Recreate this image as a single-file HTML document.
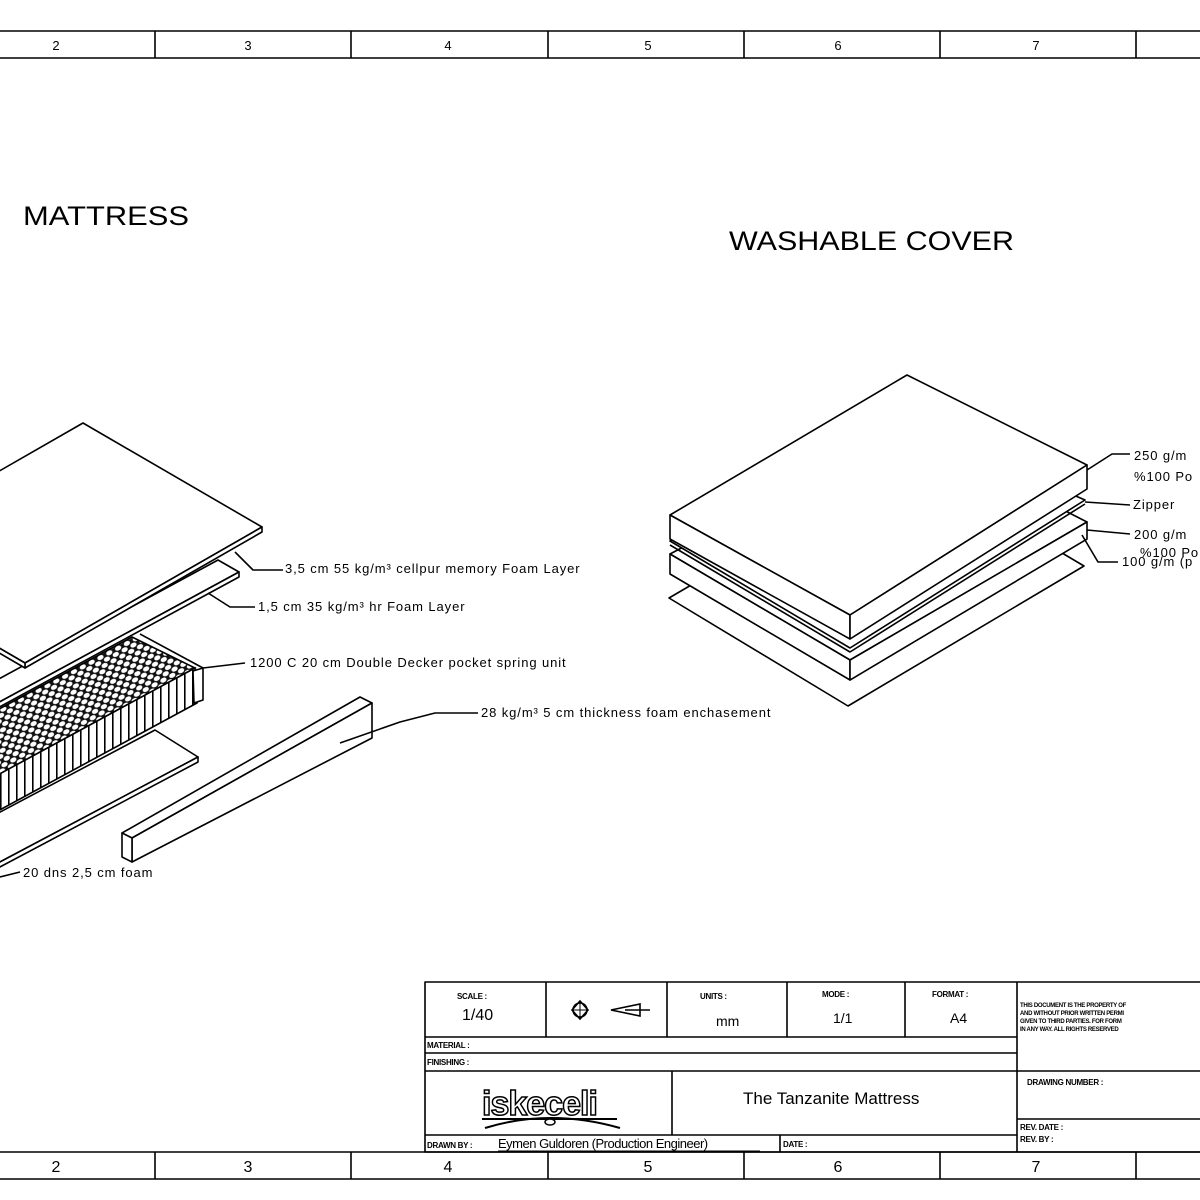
<!DOCTYPE html>
<html><head><meta charset="utf-8"><style>
html,body{margin:0;padding:0;background:#fff;}
svg{display:block;font-family:"Liberation Sans",sans-serif;}
.l{fill:#fff;stroke:#000;stroke-width:1.6;stroke-linejoin:round}
.p{fill:none;stroke:#000;stroke-width:1.6;stroke-linejoin:round}
.t{font-size:13px;letter-spacing:0.9px;fill:#000}
.s{font-size:8px;font-weight:bold;fill:#000;letter-spacing:-0.3px}
</style></head><body>
<svg width="1200" height="1200" viewBox="0 0 1200 1200" xmlns="http://www.w3.org/2000/svg">
<defs>
<pattern id="hex" width="10" height="9" patternUnits="userSpaceOnUse" patternTransform="rotate(-28)">
<rect width="10" height="9" fill="#111"/>
<ellipse cx="5" cy="2.2" rx="3.3" ry="2.3" fill="#fff"/>
<ellipse cx="0" cy="6.7" rx="3.3" ry="2.3" fill="#fff"/>
<ellipse cx="10" cy="6.7" rx="3.3" ry="2.3" fill="#fff"/>
</pattern>
<pattern id="cols" width="8" height="20" patternUnits="userSpaceOnUse" patternTransform="skewY(-28)">
<rect width="8" height="20" fill="#fff"/>
<rect x="0" width="1.6" height="20" fill="#000"/>
</pattern>
</defs>
<rect width="1200" height="1200" fill="#fff"/>
<!-- top band -->
<g class="p"><line x1="0" y1="31" x2="1200" y2="31"/><line x1="0" y1="58" x2="1200" y2="58"/>
<line x1="155" y1="31" x2="155" y2="58"/><line x1="351" y1="31" x2="351" y2="58"/><line x1="548" y1="31" x2="548" y2="58"/><line x1="744" y1="31" x2="744" y2="58"/><line x1="940" y1="31" x2="940" y2="58"/><line x1="1136" y1="31" x2="1136" y2="58"/></g>
<g font-size="13" text-anchor="middle"><text x="56" y="50">2</text><text x="248" y="50">3</text><text x="448" y="50">4</text><text x="648" y="50">5</text><text x="838" y="50">6</text><text x="1036" y="50">7</text></g>
<!-- bottom band -->
<g class="p"><line x1="0" y1="1152" x2="1200" y2="1152"/><line x1="0" y1="1179" x2="1200" y2="1179"/>
<line x1="155" y1="1152" x2="155" y2="1179"/><line x1="351" y1="1152" x2="351" y2="1179"/><line x1="548" y1="1152" x2="548" y2="1179"/><line x1="744" y1="1152" x2="744" y2="1179"/><line x1="940" y1="1152" x2="940" y2="1179"/><line x1="1136" y1="1152" x2="1136" y2="1179"/></g>
<g font-size="16" text-anchor="middle"><text x="56" y="1172">2</text><text x="248" y="1172">3</text><text x="448" y="1172">4</text><text x="648" y="1172">5</text><text x="838" y="1172">6</text><text x="1036" y="1172">7</text></g>
<!-- titles -->
<text x="23" y="225" font-size="27" textLength="166" lengthAdjust="spacingAndGlyphs">MATTRESS</text>
<text x="729" y="250" font-size="27" textLength="285" lengthAdjust="spacingAndGlyphs">WASHABLE COVER</text>
<!-- mattress: base plate -->
<polygon class="l" points="155,730 198,757 -102,916 -145,889"/>
<polygon class="l" points="198,757 198,762 -102,921 -102,916"/>
<!-- spring unit -->
<polygon points="132,637 195,668 -100,828 -163,797" fill="url(#hex)" stroke="#000" stroke-width="1.6"/>
<polygon points="195,668 197,703 -100,864 -100,828" fill="url(#cols)" stroke="#000" stroke-width="1.6"/>
<polygon class="l" points="193,671 203,668 203,700 194,703"/>
<line class="p" x1="140" y1="634" x2="203" y2="668"/>
<!-- second sheet -->
<polygon class="l" points="218,560 239,572 -100,756 -121,744"/>
<polygon class="l" points="239,572 239,577 -100,761 -100,756"/>
<!-- top sheet -->
<polygon class="l" points="83,423 262,527 25,663 -154,559"/>
<polygon class="l" points="262,527 262,532 25,668 25,663"/>
<polygon class="l" points="25,663 25,668 -154,564 -154,559"/>
<!-- bar -->
<polygon class="l" points="122,833 360,697 372,703 132,838"/>
<polygon class="l" points="132,838 372,703 372,738 132,862"/>
<polygon class="l" points="122,833 132,838 132,862 122,857"/>
<!-- leaders mattress -->
<polyline class="p" points="235,552 253,570 283,570"/>
<polyline class="p" points="208,593 230,607 255,607"/>
<polyline class="p" points="203,668 245,663"/>
<polyline class="p" points="340,743 400,722 435,713 478,713"/>
<polyline class="p" points="0,877 20,872"/>
<g class="t">
<text x="285" y="573">3,5 cm 55 kg/m³ cellpur memory Foam Layer</text>
<text x="258" y="611">1,5 cm 35 kg/m³  hr Foam Layer</text>
<text x="250" y="667">1200 C 20 cm Double Decker pocket spring unit</text>
<text x="481" y="717">28 kg/m³ 5 cm thickness foam enchasement</text>
<text x="23" y="877">20 dns  2,5 cm foam</text>
</g>
<!-- cover -->
<polygon class="l" points="669,598 905,460 1084,566 848,706"/>
<polygon class="l" points="670,554 907,430 1087,522 850,660"/>
<polygon class="l" points="670,554 850,660 850,680 670,574"/>
<polygon class="l" points="850,660 1087,522 1087,539 850,680"/>
<polygon class="l" points="670,541 900,420 1085,500 850,648"/>
<polyline class="p" points="670,545 850,652 1085,504" stroke-width="2"/>
<polygon class="l" points="670,515 907,375 1087,465 850,615"/>
<polygon class="l" points="670,515 850,615 850,639 670,539"/>
<polygon class="l" points="850,615 1087,465 1087,489 850,639"/>
<polyline class="p" points="1087,470 1112,454 1130,454"/>
<polyline class="p" points="1085,502 1130,505"/>
<polyline class="p" points="1087,530 1130,534"/>
<polyline class="p" points="1082,535 1098,562 1118,562"/>
<g class="t">
<text x="1134" y="460">250 g/m</text><text x="1134" y="481">%100 Po</text>
<text x="1133" y="509">Zipper</text>
<text x="1134" y="539">200 g/m</text><text x="1140" y="557">%100 Po</text>
<text x="1122" y="566">100 g/m (p</text>
</g>
<!-- title block -->
<g class="p">
<rect x="425" y="982" width="800" height="170"/>
<line x1="425" y1="1037" x2="1017" y2="1037"/>
<line x1="425" y1="1053" x2="1017" y2="1053"/>
<line x1="425" y1="1071" x2="1200" y2="1071"/>
<line x1="425" y1="1135" x2="1017" y2="1135"/>
<line x1="1017" y1="1119" x2="1200" y2="1119"/>
<line x1="546" y1="982" x2="546" y2="1037"/>
<line x1="667" y1="982" x2="667" y2="1037"/>
<line x1="787" y1="982" x2="787" y2="1037"/>
<line x1="905" y1="982" x2="905" y2="1037"/>
<line x1="1017" y1="982" x2="1017" y2="1152"/>
<line x1="672" y1="1071" x2="672" y2="1135"/>
<line x1="780" y1="1135" x2="780" y2="1152"/>
</g>
<g class="s">
<text x="457" y="999">SCALE :</text><text x="700" y="999">UNITS :</text><text x="822" y="997">MODE :</text><text x="932" y="997">FORMAT :</text>
<text x="427" y="1048">MATERIAL :</text><text x="427" y="1065">FINISHING :</text>
<text x="427" y="1148">DRAWN BY : </text><text x="783" y="1147">DATE :</text>
<text x="1020" y="1007" font-size="6">THIS DOCUMENT IS THE PROPERTY OF</text>
<text x="1020" y="1015" font-size="6">AND WITHOUT PRIOR WRITTEN PERMI</text>
<text x="1020" y="1023" font-size="6">GIVEN TO THIRD PARTIES. FOR FORM</text>
<text x="1020" y="1031" font-size="6">IN ANY WAY. ALL RIGHTS RESERVED</text>
<text x="1027" y="1085">DRAWING NUMBER :</text>
<text x="1020" y="1130">REV. DATE :</text><text x="1020" y="1142">REV. BY :</text>
</g>
<text x="462" y="1020" font-size="16">1/40</text>
<text x="716" y="1026" font-size="14">mm</text>
<text x="833" y="1023" font-size="14">1/1</text>
<text x="950" y="1023" font-size="14">A4</text>
<text x="743" y="1104" font-size="17">The Tanzanite Mattress</text>
<text x="498" y="1148" font-size="13" letter-spacing="-0.5">Eymen Guldoren (Production Engineer)</text>
<line x1="498" y1="1151" x2="760" y2="1151" stroke="#000" stroke-width="1"/>
<!-- logo -->
<text x="482" y="1115" font-size="34" font-weight="bold" fill="#fff" stroke="#000" stroke-width="1.5" letter-spacing="-1">iskeceli</text>
<line x1="482" y1="1119" x2="617" y2="1119" stroke="#000" stroke-width="2"/>
<path d="M485,1128 Q550,1108 620,1128" fill="none" stroke="#000" stroke-width="2"/>
<ellipse cx="550" cy="1122" rx="5" ry="3" fill="#fff" stroke="#000" stroke-width="1.5"/>
<!-- projection symbol -->
<circle cx="580" cy="1010" r="7" fill="none" stroke="#000" stroke-width="1.6"/>
<path d="M580,1001 L588,1010 L580,1019 L572,1010 Z" fill="none" stroke="#000" stroke-width="1.6"/>
<line x1="572" y1="1010" x2="588" y2="1010" stroke="#000"/><line x1="580" y1="1001" x2="580" y2="1019" stroke="#000"/>
<path d="M611,1010 L640,1004 L640,1016 Z" fill="none" stroke="#000" stroke-width="1.6"/>
<line x1="625" y1="1010" x2="650" y2="1010" stroke="#000" stroke-width="1.6"/>
</svg>
</body></html>
